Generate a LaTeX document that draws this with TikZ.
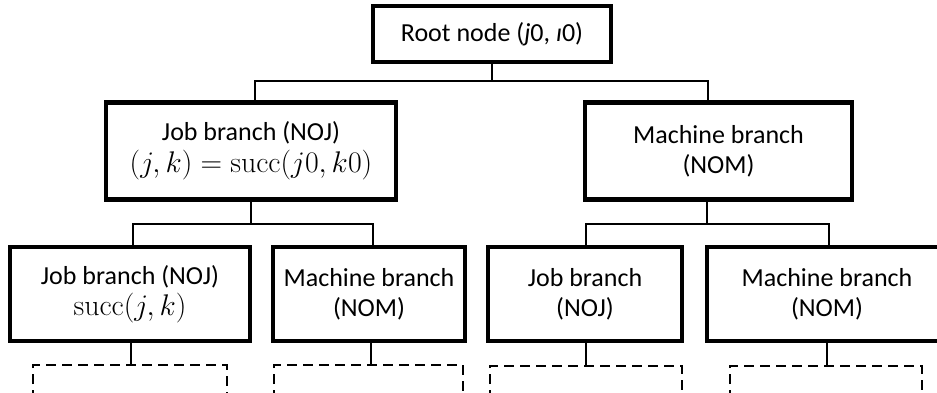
\documentclass[tikz,border=0pt]{standalone}
\usepackage{graphicx}
\usepackage[no-math]{fontspec}
\setmainfont{Carlito}
\newcommand{\mathline}[1]{\scalebox{1.2}{$#1$}}
\begin{document}
\begin{tikzpicture}[x=1pt,y=-1pt,
  treebox/.style={draw=black, line width=4.5pt, fill=white, inner sep=0pt,
    align=center, font=\fontsize{26}{30}\selectfont},
  link/.style={draw=black, line width=2pt},
  pending/.style={draw=black, line width=2pt, dash pattern=on 10pt off 6pt}]
\useasboundingbox (0,0) rectangle (937,392);
\begin{scope}
\clip (0,0) rectangle (937,392);

% tree levels
\node[treebox, minimum width=238pt, minimum height=56pt] (root) at (492,34)
  {Root node (\textit{j}0, \textit{\i}0)};
\node[treebox, minimum width=290pt, minimum height=97pt] (job) at (251,151)
  {Job branch (NOJ)\\[2pt] \mathline{(j,k)=\mathrm{succ}(j0,k0)}};
\node[treebox, minimum width=267pt, minimum height=97pt] (mach) at (718.5,151)
  {Machine branch\\ (NOM)};
\node[treebox, minimum width=240pt, minimum height=94pt] (jj) at (130,294)
  {Job branch (NOJ)\\[1pt] \mathline{\mathrm{succ}(j,k)}};
\node[treebox, minimum width=192pt, minimum height=94pt] (jm) at (369,294)
  {Machine branch\\ (NOM)};
\node[treebox, minimum width=194pt, minimum height=94pt] (mj) at (585,294)
  {Job branch\\ (NOJ)};
\node[treebox, minimum width=240pt, minimum height=94pt] (mm) at (827,294)
  {Machine branch\\ (NOM)};

% bus lines
\coordinate (bus0) at (492,81);
\coordinate (bus1) at (251,224);
\coordinate (bus2) at (707,224);

\draw[link] (root.south) -- (bus0);
\draw[link] ([xshift=4pt]job.north) |- (bus0) -| ([xshift=-10.5pt]mach.north);
\draw[link] (job.south) -- (bus1);
\draw[link] ([xshift=3pt]jj.north) |- (bus1) -| ([xshift=4pt]jm.north);
\draw[link] ([xshift=-11.5pt]mach.south) -- (bus2);
\draw[link] ([xshift=1pt]mj.north) |- (bus2) -| ([xshift=2pt]mm.north);

% next level, still open
\coordinate (d1) at (131,365);
\coordinate (d2) at (371,365);
\coordinate (d3) at (586,366);
\coordinate (d4) at (827,366);
\draw[pending] (33,400) -- (33,365) -- (227,365) -- (227,400);
\draw[pending] (274,400) -- (274,365) -- (463,365) -- (463,400);
\draw[pending] (490,400) -- (490,366) -- (682,366) -- (682,400);
\draw[pending] (730,400) -- (730,366) -- (922,366) -- (922,400);
\draw[link] ([xshift=1pt]jj.south) -- (d1);
\draw[link] ([xshift=2pt]jm.south) -- (d2);
\draw[link] ([xshift=1pt]mj.south) -- (d3);
\draw[link] (mm.south) -- (d4);
\end{scope}
\end{tikzpicture}
\end{document}
